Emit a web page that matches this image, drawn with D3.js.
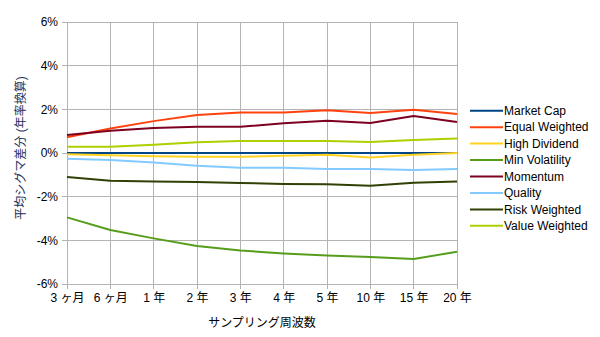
<!DOCTYPE html>
<html>
<head>
<meta charset="utf-8">
<script src="https://cdn.jsdelivr.net/npm/d3@7"></script>
<style>
  html, body { margin: 0; padding: 0; background: #fff; }
  svg { display: block; font-family: "Liberation Sans", Arial, "Noto Sans CJK JP", sans-serif; }
</style>
</head>
<body>
<svg id="chart" width="600" height="337"></svg>
<script>
// Sampling periods (x axis categories)
const periods = ["3 ヶ月", "6 ヶ月", "1 年", "2 年", "3 年", "4 年", "5 年", "10 年", "15 年", "20 年"];

// Average sigma difference (annualised, %) per strategy
const marketCap      = [0.00, 0.00, 0.00, 0.00, 0.00, 0.00, 0.00, 0.00, 0.00, 0.00];
const equalWeighted  = [0.72, 1.12, 1.46, 1.74, 1.85, 1.86, 1.96, 1.83, 1.98, 1.79];
const highDividend   = [-0.06, -0.10, -0.15, -0.17, -0.17, -0.13, -0.08, -0.21, -0.08, 0.00];
const minVolatility  = [-2.95, -3.53, -3.91, -4.26, -4.47, -4.60, -4.70, -4.76, -4.86, -4.52];
const momentum       = [0.82, 1.02, 1.14, 1.20, 1.20, 1.36, 1.48, 1.37, 1.69, 1.42];
const quality        = [-0.26, -0.32, -0.43, -0.58, -0.67, -0.68, -0.73, -0.73, -0.78, -0.73];
const riskWeighted   = [-1.10, -1.27, -1.31, -1.33, -1.37, -1.42, -1.43, -1.50, -1.36, -1.31];
const valueWeighted  = [0.29, 0.29, 0.38, 0.49, 0.55, 0.55, 0.55, 0.50, 0.60, 0.66];

const seriesNames  = ["Market Cap", "Equal Weighted", "High Dividend", "Min Volatility", "Momentum", "Quality", "Risk Weighted", "Value Weighted"];
const seriesValues = [marketCap, equalWeighted, highDividend, minVolatility, momentum, quality, riskWeighted, valueWeighted];
const seriesColors = ["#004586", "#ff420e", "#ffd320", "#579d1c", "#7e0021", "#83caff", "#314004", "#aecf00"];

const yTicks = [6, 4, 2, 0, -2, -4, -6];

const svg = d3.select("#chart");
const plot = { left: 67, right: 457, top: 22, bottom: 284 };

const x = d3.scalePoint().domain(periods).range([plot.left, plot.right]);
const y = d3.scaleLinear().domain([-6, 6]).range([plot.bottom, plot.top]);

// Grid
const grid = svg.append("g").attr("stroke", "#b3b3b3").attr("stroke-width", 1).attr("shape-rendering", "crispEdges");
grid.selectAll(".gx").data(periods).join("line")
  .attr("x1", d => x(d)).attr("x2", d => x(d))
  .attr("y1", plot.top).attr("y2", plot.bottom + 5);
grid.selectAll(".gy").data(yTicks).join("line")
  .attr("x1", plot.left - 5).attr("x2", plot.right)
  .attr("y1", d => y(d)).attr("y2", d => y(d));

// Axes labels via d3 axes (domain and tick lines hidden; grid drawn above)
const yAxis = svg.append("g").attr("transform", `translate(${plot.left - 5},0)`)
  .call(d3.axisLeft(y).tickValues(yTicks).tickSize(0).tickPadding(4).tickFormat(d => d + "%"));
yAxis.select(".domain").remove();
yAxis.selectAll("text").attr("font-size", 12).attr("fill", "#000")
  .attr("font-family", "'Liberation Sans', Arial, sans-serif");

const xAxis = svg.append("g").attr("transform", `translate(0,${plot.bottom + 5})`)
  .call(d3.axisBottom(x).tickSize(0).tickPadding(4));
xAxis.select(".domain").remove();
xAxis.selectAll("text").attr("font-size", 12).attr("fill", "#000")
  .attr("font-family", "'Liberation Sans', Arial, 'Noto Sans CJK JP', sans-serif");

// Series lines
const line = d3.line().x((d, i) => x(periods[i])).y(d => y(d));
svg.append("g").selectAll("path").data(seriesValues).join("path")
  .attr("d", d => line(d))
  .attr("fill", "none")
  .attr("stroke", (d, i) => seriesColors[i])
  .attr("stroke-width", 2)
  .attr("stroke-linejoin", "round");

// Legend
const legend = svg.append("g").attr("transform", "translate(470,110.7)");
const rows = legend.selectAll("g").data(seriesNames).join("g")
  .attr("transform", (d, i) => `translate(0,${i * 16.45})`);
rows.append("line").attr("x1", 0).attr("x2", 33).attr("y1", 0).attr("y2", 0)
  .attr("stroke", (d, i) => seriesColors[i]).attr("stroke-width", 2);
rows.append("text").attr("x", 34).attr("y", 0).attr("dy", "0.35em")
  .attr("font-size", 12).attr("fill", "#000").text(d => d);

// Axis titles
svg.append("text")
  .attr("x", (plot.left + plot.right) / 2).attr("y", 327)
  .attr("text-anchor", "middle").attr("font-size", 12).attr("fill", "#000")
  .attr("font-family", "'Noto Sans CJK JP', sans-serif")
  .text("サンプリング周波数");

svg.append("text")
  .attr("transform", "translate(25,148) rotate(-90)")
  .attr("text-anchor", "middle").attr("font-size", 12).attr("fill", "#1c2f5a")
  .attr("font-family", "'Liberation Sans', 'Noto Sans CJK JP', sans-serif")
  .text("平均シグマ差分 (年率換算)");
</script>
</body>
</html>
